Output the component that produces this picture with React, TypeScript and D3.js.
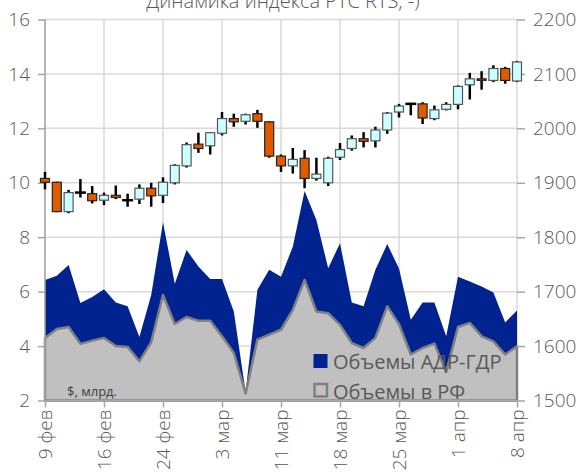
import React, { useEffect, useRef } from 'react';
import * as d3 from 'd3';

// trading days, 9 feb - 8 apr
const dates = ["9 фев", "10 фев", "11 фев", "12 фев", "13 фев", "16 фев", "17 фев", "18 фев", "19 фев", "20 фев",
    "24 фев", "25 фев", "26 фев", "27 фев", "2 мар", "3 мар", "4 мар", "5 мар", "6 мар", "10 мар",
    "11 мар", "12 мар", "13 мар", "16 мар", "17 мар", "18 мар", "19 мар", "20 мар", "23 мар", "24 мар",
    "25 мар", "26 мар", "27 мар", "30 мар", "31 мар", "1 апр", "2 апр", "3 апр", "6 апр", "7 апр", "8 апр"];
const dateTicks = ["9 фев", "16 фев", "24 фев", "3 мар", "11 мар", "18 мар", "25 мар", "1 апр", "8 апр"];

// volumes, $ bn (left axis)
const rfVolume = [4.3, 4.63, 4.7, 4.08, 4.2, 4.3, 4.0, 3.97, 3.44, 4.14, 5.88, 4.81, 5.07, 4.93, 4.93, 4.36, 3.75, 2.26, 4.24, 4.42,
    4.6, 5.33, 6.43, 5.27, 5.21, 4.78, 4.11, 3.93, 4.3, 5.46, 4.8, 3.69, 3.93, 4.09, 3.05, 4.7, 4.85, 4.36, 4.17, 3.69, 3.99];
const adrVolume = [2.13, 1.95, 2.28, 1.5, 1.6, 1.79, 1.6, 1.49, 0.89, 1.74, 2.67, 1.48, 2.46, 1.99, 1.53, 2.1, 1.52, 0.05, 1.83, 2.38,
    1.95, 2.32, 3.27, 3.36, 1.65, 3.0, 1.49, 1.53, 2.5, 2.29, 2.05, 1.28, 1.67, 1.51, 1.31, 1.85, 1.52, 1.83, 1.8, 1.18, 1.32];

// RTS index (right axis)
const rtsOpen = [1908, 1901, 1847, 1882, 1880, 1868, 1877, 1868, 1870, 1890, 1877, 1900, 1931, 1971, 1968, 1991, 2018, 2013, 2027, 2012,
    1949, 1931, 1945, 1908, 1900, 1947, 1963, 1981, 1977, 1997, 2030, 2045, 2045, 2018, 2035, 2044, 2080, 2091, 2088, 2110, 2087];
const rtsHigh = [1920, 1902, 1887, 1907, 1894, 1882, 1895, 1880, 1897, 1900, 1910, 1934, 1974, 1992, 1993, 2030, 2027, 2027, 2034, 2013,
    1952, 1964, 1960, 1946, 1948, 1973, 1987, 1993, 2003, 2030, 2045, 2047, 2048, 2042, 2048, 2079, 2102, 2105, 2116, 2113, 2124];
const rtsLow = [1888, 1846, 1844, 1873, 1862, 1859, 1870, 1856, 1861, 1856, 1863, 1897, 1928, 1955, 1952, 1987, 2003, 2007, 2001, 1946,
    1920, 1917, 1890, 1904, 1894, 1942, 1959, 1965, 1965, 1990, 2020, 2024, 2008, 2015, 2033, 2035, 2053, 2071, 2085, 2082, 2085];
const rtsClose = [1901, 1847, 1882, 1882, 1867, 1877, 1873, 1868, 1890, 1876, 1901, 1932, 1970, 1963, 1992, 2018, 2012, 2025, 2013, 1949,
    1931, 1943, 1908, 1916, 1945, 1961, 1981, 1976, 1997, 2028, 2041, 2045, 2019, 2034, 2044, 2077, 2091, 2089, 2110, 2088, 2122];

const leftTicks = [2, 4, 6, 8, 10, 12, 14, 16];
const rightTicks = [1500, 1600, 1700, 1800, 1900, 2000, 2100, 2200];

const FONT = "'Open Sans', 'DejaVu Sans', sans-serif";

function Chart() {
    const ref = useRef<SVGSVGElement>(null);

    useEffect(() => {
        var W = 587, H = 472;
        var margin = { top: 19.5, right: 70, bottom: 71.5, left: 45 };
        var left = margin.left, right = W - margin.right, top = margin.top, bottom = H - margin.bottom;

        var svg = d3.select(ref.current);
        svg.selectAll("*").remove();

        var x = d3.scalePoint<string>().domain(dates).range([left, right]);
        var yL = d3.scaleLinear().domain([2, 16]).range([bottom, top]).clamp(true);
        var yR = d3.scaleLinear().domain([1500, 2200]).range([bottom, top]);

        // grid
        var grid = svg.append("g").attr("stroke", "#d9d9d9").attr("stroke-width", 1.5);
        leftTicks.forEach(function (t) {
            grid.append("line").attr("x1", left).attr("x2", right).attr("y1", yL(t)).attr("y2", yL(t));
        });
        dateTicks.forEach(function (d) {
            grid.append("line").attr("x1", x(d)!).attr("x2", x(d)!).attr("y1", top).attr("y2", bottom);
        });

        // stacked volume areas
        var table = dates.map(function (d, i) { return { date: d, rf: rfVolume[i], adr: adrVolume[i] }; });
        var stack = d3.stack<any>().keys(["rf", "adr"])(table);
        var area = d3.area<any>()
            .x(function (d) { return x(d.data.date)!; })
            .y0(function (d) { return yL(d[0]); })
            .y1(function (d) { return yL(d[1]); });

        svg.append("path").datum(stack[1]).attr("d", area).attr("fill", "#00238f");
        svg.append("path").datum(stack[0]).attr("d", area)
            .attr("fill", "#c0c0c0").attr("stroke", "#808080").attr("stroke-width", 2.5)
            .attr("stroke-linejoin", "round");

        // axes
        function styleAxis(g: any) {
            g.select(".domain").remove();
            g.selectAll(".tick line").attr("stroke", "#a6a6a6").attr("stroke-width", 1.5);
            g.selectAll("text").attr("fill", "#595959").style("font-family", FONT)
                .style("font-size", "19px").style("font-weight", 300);
        }

        svg.append("g").attr("transform", "translate(" + left + ",0)")
            .call(d3.axisLeft(yL).tickValues(leftTicks).tickSize(7).tickPadding(8).tickFormat(d3.format("d")))
            .call(styleAxis);

        svg.append("g").attr("transform", "translate(" + right + ",0)")
            .call(d3.axisRight(yR).tickValues(rightTicks).tickSize(8).tickPadding(8).tickFormat(d3.format("d")))
            .call(styleAxis);

        svg.append("g").attr("transform", "translate(0," + bottom + ")")
            .call(d3.axisBottom(x).tickValues(dateTicks).tickSize(7))
            .call(styleAxis)
            .selectAll("text")
            .attr("y", 0)
            .attr("x", -9)
            .attr("dy", "0.35em")
            .attr("transform", "rotate(-90)")
            .style("text-anchor", "end");

        svg.append("line").attr("x1", left).attr("x2", left).attr("y1", top).attr("y2", bottom)
            .attr("stroke", "#a6a6a6").attr("stroke-width", 1.5);
        svg.append("line").attr("x1", left).attr("x2", right).attr("y1", bottom).attr("y2", bottom)
            .attr("stroke", "#a6a6a6").attr("stroke-width", 1.5);

        // candlesticks
        var bw = 9;
        var candles = svg.append("g");
        dates.forEach(function (d, i) {
            var cx = x(d)!;
            var o = rtsOpen[i], c = rtsClose[i];
            candles.append("line").attr("x1", cx).attr("x2", cx)
                .attr("y1", yR(rtsHigh[i])).attr("y2", yR(rtsLow[i]))
                .attr("stroke", "#000").attr("stroke-width", 2.5);
            if (o === c) {
                candles.append("line").attr("x1", cx - bw / 2 - 1).attr("x2", cx + bw / 2 + 1)
                    .attr("y1", yR(o)).attr("y2", yR(o)).attr("stroke", "#000").attr("stroke-width", 2.5);
            } else {
                var y1 = yR(Math.max(o, c)), y2 = yR(Math.min(o, c));
                candles.append("rect").attr("x", cx - bw / 2).attr("y", y1)
                    .attr("width", bw).attr("height", Math.max(1.5, y2 - y1))
                    .attr("fill", c > o ? "#ccffff" : "#e05a00")
                    .attr("stroke", c > o ? "#555" : "#222").attr("stroke-width", 1.2);
            }
        });

        // legend
        var lg = svg.append("g").style("font-family", FONT).style("font-size", "20px").attr("fill", "#595959");
        lg.append("rect").attr("x", 313.5).attr("y", 354).attr("width", 14).attr("height", 14).attr("fill", "#00238f");
        lg.append("text").attr("x", 333).attr("y", 368.5).text("Объемы АДР-ГДР");
        lg.append("rect").attr("x", 314.5).attr("y", 384).attr("width", 12.5).attr("height", 12.5)
            .attr("fill", "#c0c0c0").attr("stroke", "#808080").attr("stroke-width", 2.5);
        lg.append("text").attr("x", 333).attr("y", 398.5).text("Объемы в РФ");

        svg.append("text").attr("x", 67).attr("y", 395.5).attr("fill", "#404040")
            .style("font-family", FONT).style("font-size", "13px").text("$, млрд.");

        // title (cut off at the top edge, as in the original)
        svg.append("text").attr("x", 283).attr("y", 7.5).attr("text-anchor", "middle").attr("fill", "#595959")
            .style("font-family", FONT).style("font-size", "20px").style("font-weight", 300)
            .text("Динамика индекса РТС RTS, -)");
    }, []);

    return <svg ref={ref} width={587} height={472} style={{ position: "absolute", left: 0, top: 0, background: "#fff" }} />;
}

export default function App() {
    return <Chart />;
}
